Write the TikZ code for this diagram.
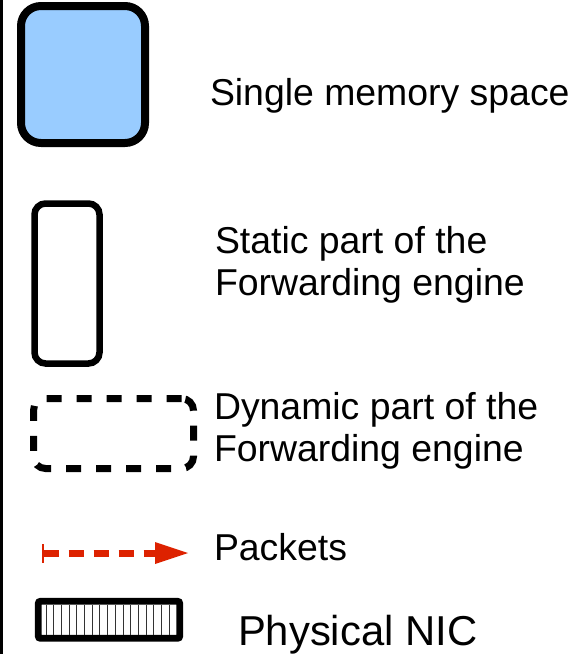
\documentclass[tikz,border=0pt]{standalone}
\usepackage{fontspec}
\setmainfont{Liberation Sans}
\usetikzlibrary{arrows.meta}
\definecolor{memblue}{RGB}{153,204,255}
\definecolor{pktred}{RGB}{221,34,0}

\begin{document}
\begin{tikzpicture}[x=1pt,y=-1pt,
  legendbox/.style={draw=black, rectangle, inner sep=0pt, outer sep=0pt},
  legendtext/.style={inner sep=0pt, outer sep=0pt, font=\fontsize{37.4}{42.5}\selectfont, align=left},
  pkt/.style={draw=pktred, line width=7pt, dash pattern=on 15pt off 10pt,
    {Bar[width=19pt,line width=2pt]}-{Triangle[length=33pt,width=22pt,line width=0pt]}},
  nicstripe/.style={line width=1pt, black!80},
]
\useasboundingbox (0,0) rectangle (577,654);

% rule along the left edge
\draw[line width=2.5pt] (1.3,0) -- (1.3,654);

% legend symbols
\node[legendbox, fill=memblue, line width=8pt, rounded corners=20pt,
      minimum width=124pt, minimum height=137pt] (mem) at (83,74.5) {};
\node[legendbox, line width=6.5pt, rounded corners=11pt,
      minimum width=65pt, minimum height=160pt] (static) at (67,283.5) {};
\node[legendbox, line width=7pt, rounded corners=12pt, dash pattern=on 15pt off 15pt,
      minimum width=160pt, minimum height=70pt] (dynamic) at (113.5,433.5) {};

\coordinate (pktstart) at (42,553);
\coordinate (pktend) at (188,553);
\draw[pkt] (pktstart) -- (pktend);

\node[legendbox, fill=white, line width=6.7pt, rounded corners=2pt,
      minimum width=141.4pt, minimum height=37pt] (nic) at (109,619.8) {};
\foreach \i in {0,...,16}
  \draw[nicstripe] ({46+7.7*\i},605) -- ({46+7.7*\i},635);

% legend captions
\node[legendtext, anchor=base west] (memtxt) at (210,105) {Single memory space};
\node[legendtext, anchor=north west] (stattxt) at (215,226) {Static part of the\\Forwarding engine};
\node[legendtext, anchor=north west] (dyntxt) at (214,392) {Dynamic part of the\\Forwarding engine};
\node[legendtext, anchor=base west] (pkttxt) at (214,560) {Packets};
\node[legendtext, font=\fontsize{41.8}{48}\selectfont, anchor=base west] (nictxt) at (238,645) {Physical NIC};
\end{tikzpicture}
\end{document}
